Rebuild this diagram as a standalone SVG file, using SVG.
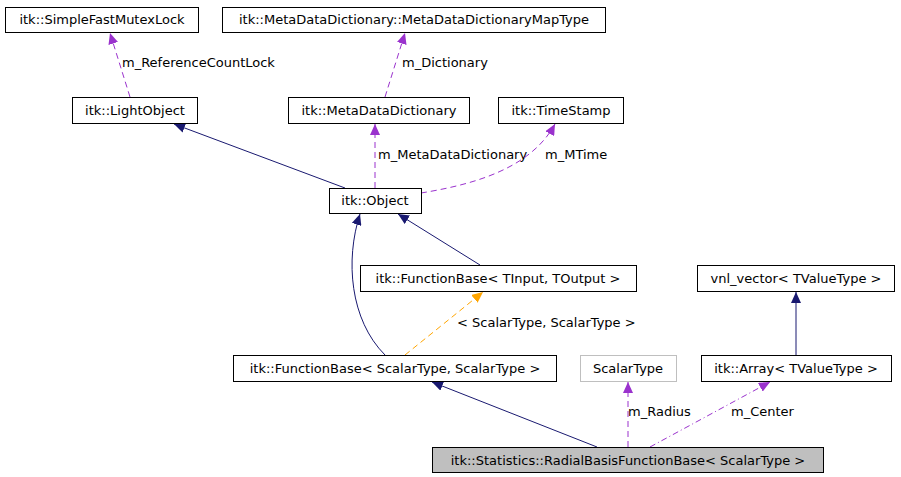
<svg xmlns="http://www.w3.org/2000/svg" width="901" height="477" viewBox="0 0 901 477">
<style>
text{font-family:"DejaVu Sans",sans-serif;font-size:13px;fill:#000}
.n rect{fill:#fff;stroke:#000;stroke-width:1}
.g rect{stroke:#bfbfbf}
.inh{fill:none;stroke:#191970;stroke-width:1}
.use{fill:none;stroke:#9a32cd;stroke-width:1;stroke-dasharray:6,4}
.tpl{fill:none;stroke:#ffa500;stroke-width:1;stroke-dasharray:6,4}
</style>
<defs>
<marker id="aN" markerWidth="12" markerHeight="10" refX="11" refY="5" orient="auto" markerUnits="userSpaceOnUse"><path d="M0,0L11,5L0,10z" fill="#191970"/></marker>
<marker id="aP" markerWidth="12" markerHeight="10" refX="11" refY="5" orient="auto" markerUnits="userSpaceOnUse"><path d="M0,0L11,5L0,10z" fill="#9a32cd"/></marker>
<marker id="aO" markerWidth="12" markerHeight="10" refX="11" refY="5" orient="auto" markerUnits="userSpaceOnUse"><path d="M0,0L11,5L0,10z" fill="#ffa500"/></marker>
</defs>
<g id="connectors">
<path class="use" d="M130,97L110,33" marker-end="url(#aP)"/>
<text x="122" y="67">m_ReferenceCountLock</text>
<path class="use" d="M385,97L405,33" marker-end="url(#aP)"/>
<text x="402" y="67">m_Dictionary</text>
<path class="inh" d="M345,188L174,124" marker-end="url(#aN)"/>
<path class="use" d="M375,188L375,124" marker-end="url(#aP)"/>
<text x="378" y="159">m_MetaDataDictionary</text>
<path class="use" d="M421,193C470,185 530,170 555,124" marker-end="url(#aP)"/>
<text x="545" y="159">m_MTime</text>
<path class="inh" d="M480,265L398,214" marker-end="url(#aN)"/>
<path class="inh" d="M385,355C350,320 345,260 360,214" marker-end="url(#aN)"/>
<path class="tpl" d="M405,355L483,292" marker-end="url(#aO)"/>
<text x="457" y="327">&lt; ScalarType, ScalarType &gt;</text>
<path class="inh" d="M796,355L796,292" marker-end="url(#aN)"/>
<path class="inh" d="M597,447L432,382" marker-end="url(#aN)"/>
<path class="use" d="M628,447L628,382" marker-end="url(#aP)"/>
<text x="628" y="416">m_Radius</text>
<path class="use" style="stroke-dasharray:6,3,1,3" d="M650,447L770,382" marker-end="url(#aP)"/>
<text x="731" y="416">m_Center</text>
</g>
<g id="n1" class="n"><rect x="5.5" y="7.5" width="193" height="25"/><text x="102" y="24" text-anchor="middle">itk::SimpleFastMutexLock</text></g>
<g id="n2" class="n"><rect x="222.5" y="7.5" width="383" height="25"/><text x="414" y="24" text-anchor="middle">itk::MetaDataDictionary::MetaDataDictionaryMapType</text></g>
<g id="n3" class="n"><rect x="72.5" y="97.5" width="125" height="26"/><text x="135" y="115" text-anchor="middle">itk::LightObject</text></g>
<g id="n4" class="n"><rect x="288.5" y="97.5" width="181" height="26"/><text x="379" y="115" text-anchor="middle">itk::MetaDataDictionary</text></g>
<g id="n5" class="n"><rect x="498.5" y="97.5" width="125" height="26"/><text x="561" y="115" text-anchor="middle">itk::TimeStamp</text></g>
<g id="n6" class="n"><rect x="329.5" y="188.5" width="92" height="25"/><text x="375" y="205" text-anchor="middle">itk::Object</text></g>
<g id="n7" class="n"><rect x="360.5" y="265.5" width="276" height="26"/><text x="498" y="283" text-anchor="middle">itk::FunctionBase&lt; TInput, TOutput &gt;</text></g>
<g id="n8" class="n"><rect x="697.5" y="265.5" width="197" height="26"/><text x="796" y="283" text-anchor="middle">vnl_vector&lt; TValueType &gt;</text></g>
<g id="n9" class="n"><rect x="233.5" y="355.5" width="323" height="26"/><text x="395" y="373" text-anchor="middle">itk::FunctionBase&lt; ScalarType, ScalarType &gt;</text></g>
<g id="n10" class="n g"><rect x="580.5" y="355.5" width="96" height="26"/><text x="628" y="373" text-anchor="middle">ScalarType</text></g>
<g id="n11" class="n"><rect x="701.5" y="355.5" width="190" height="26"/><text x="796" y="373" text-anchor="middle">itk::Array&lt; TValueType &gt;</text></g>
<g id="n12" class="n"><rect x="432.5" y="447.5" width="391" height="25" style="fill:#bfbfbf"/><text x="628" y="465" text-anchor="middle">itk::Statistics::RadialBasisFunctionBase&lt; ScalarType &gt;</text></g>
</svg>
